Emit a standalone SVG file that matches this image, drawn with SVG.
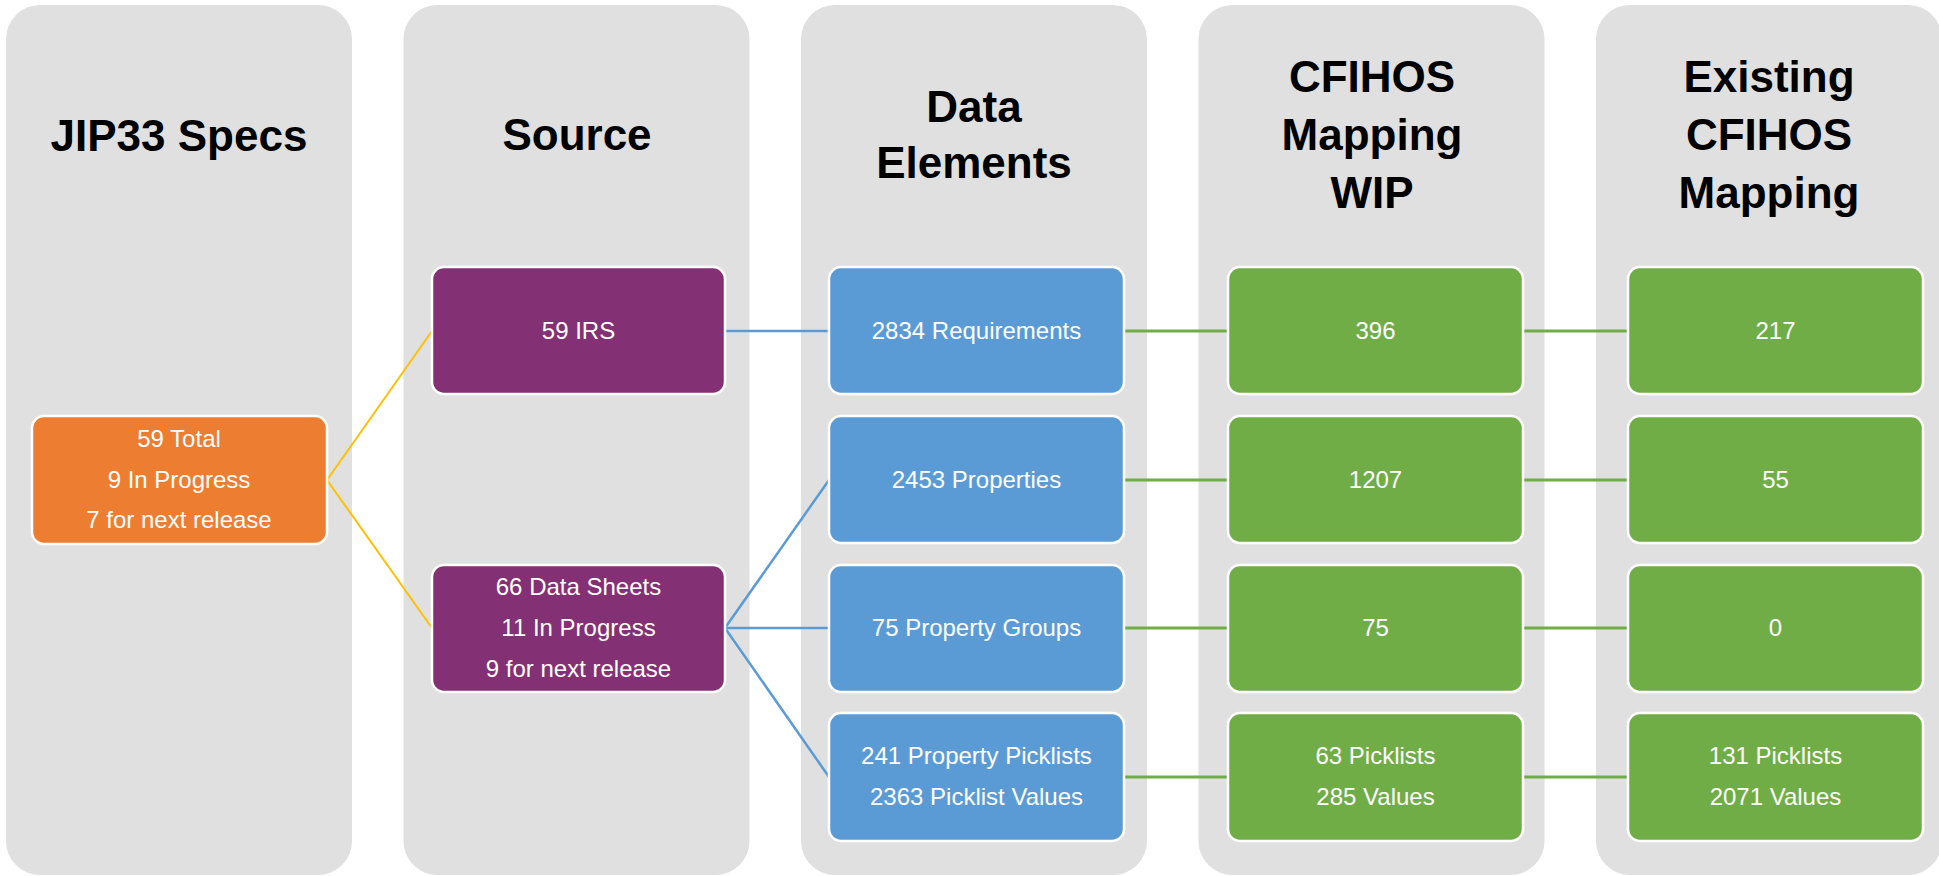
<svg xmlns="http://www.w3.org/2000/svg" width="1939" height="876" viewBox="0 0 1939 876">
<style>
.col{fill:#E0E0E0}
.hd{font-family:"Liberation Sans",Arial,sans-serif;font-weight:bold;font-size:44px;fill:#000;text-anchor:middle}
.box{stroke:#FFFFFF;stroke-width:2.5}
.or{fill:#ED7D31}
.pu{fill:#833174}
.bl{fill:#5B9BD5}
.gr{fill:#70AD47}
.t{font-family:"Liberation Sans",Arial,sans-serif;font-size:24px;fill:#FFFFFF;text-anchor:middle}
.cy{stroke:#FFC000;stroke-width:2;fill:none}
.cb{stroke:#5B9BD5;stroke-width:2.5;fill:none}
.cg{stroke:#70AD47;stroke-width:3;fill:none}
</style>
<rect width="1939" height="876" fill="#FFFFFF"/>
<g id="columns">
<g id="col-jip33"><rect class="col" x="6" y="5" width="346" height="870" rx="34"/><text class="hd" x="179" y="151">JIP33 Specs</text></g>
<g id="col-source"><rect class="col" x="403.5" y="5" width="346" height="870" rx="34"/><text class="hd" x="577" y="150">Source</text></g>
<g id="col-data"><rect class="col" x="801" y="5" width="346" height="870" rx="34"/><text class="hd" x="974" y="122">Data</text><text class="hd" x="974" y="178">Elements</text></g>
<g id="col-wip"><rect class="col" x="1198.5" y="5" width="346" height="870" rx="34"/><text class="hd" x="1372" y="92">CFIHOS</text><text class="hd" x="1372" y="150">Mapping</text><text class="hd" x="1372" y="208">WIP</text></g>
<g id="col-existing"><rect class="col" x="1596" y="5" width="346" height="870" rx="34"/><text class="hd" x="1769" y="92">Existing</text><text class="hd" x="1769" y="150">CFIHOS</text><text class="hd" x="1769" y="208">Mapping</text></g>
</g>
<g id="connectors">
<line class="cy" x1="327" y1="480" x2="432" y2="331"/>
<line class="cy" x1="327" y1="480" x2="432" y2="628"/>
<line class="cb" x1="725" y1="331" x2="829" y2="331"/>
<line class="cb" x1="725" y1="628" x2="829" y2="480"/>
<line class="cb" x1="725" y1="628" x2="829" y2="628"/>
<line class="cb" x1="725" y1="628" x2="829" y2="777"/>
<line class="cg" x1="1124" y1="331" x2="1228" y2="331"/>
<line class="cg" x1="1124" y1="480" x2="1228" y2="480"/>
<line class="cg" x1="1124" y1="628" x2="1228" y2="628"/>
<line class="cg" x1="1124" y1="777" x2="1228" y2="777"/>
<line class="cg" x1="1523" y1="331" x2="1628" y2="331"/>
<line class="cg" x1="1523" y1="480" x2="1628" y2="480"/>
<line class="cg" x1="1523" y1="628" x2="1628" y2="628"/>
<line class="cg" x1="1523" y1="777" x2="1628" y2="777"/>
</g>
<g id="n-total"><rect class="box or" x="32" y="416" width="295" height="128" rx="12"/><text class="t" x="179" y="447">59 Total</text><text class="t" x="179" y="488">9 In Progress</text><text class="t" x="179" y="528">7 for next release</text></g>
<g id="n-irs"><rect class="box pu" x="432" y="267" width="293" height="127" rx="12"/><text class="t" x="578.5" y="339">59 IRS</text></g>
<g id="n-datasheets"><rect class="box pu" x="432" y="565" width="293" height="127" rx="12"/><text class="t" x="578.5" y="595">66 Data Sheets</text><text class="t" x="578.5" y="636">11 In Progress</text><text class="t" x="578.5" y="677">9 for next release</text></g>
<g id="n-req"><rect class="box bl" x="829" y="267" width="295" height="127" rx="12"/><text class="t" x="976.5" y="339">2834 Requirements</text></g>
<g id="n-props"><rect class="box bl" x="829" y="416" width="295" height="127" rx="12"/><text class="t" x="976.5" y="488">2453 Properties</text></g>
<g id="n-groups"><rect class="box bl" x="829" y="565" width="295" height="127" rx="12"/><text class="t" x="976.5" y="636">75 Property Groups</text></g>
<g id="n-picklists"><rect class="box bl" x="829" y="713" width="295" height="128" rx="12"/><text class="t" x="976.5" y="764">241 Property Picklists</text><text class="t" x="976.5" y="805">2363 Picklist Values</text></g>
<g id="n-wip-req"><rect class="box gr" x="1228" y="267" width="295" height="127" rx="12"/><text class="t" x="1375.5" y="339">396</text></g>
<g id="n-wip-props"><rect class="box gr" x="1228" y="416" width="295" height="127" rx="12"/><text class="t" x="1375.5" y="488">1207</text></g>
<g id="n-wip-groups"><rect class="box gr" x="1228" y="565" width="295" height="127" rx="12"/><text class="t" x="1375.5" y="636">75</text></g>
<g id="n-wip-picklists"><rect class="box gr" x="1228" y="713" width="295" height="128" rx="12"/><text class="t" x="1375.5" y="764">63 Picklists</text><text class="t" x="1375.5" y="805">285 Values</text></g>
<g id="n-ex-req"><rect class="box gr" x="1628" y="267" width="295" height="127" rx="12"/><text class="t" x="1775.5" y="339">217</text></g>
<g id="n-ex-props"><rect class="box gr" x="1628" y="416" width="295" height="127" rx="12"/><text class="t" x="1775.5" y="488">55</text></g>
<g id="n-ex-groups"><rect class="box gr" x="1628" y="565" width="295" height="127" rx="12"/><text class="t" x="1775.5" y="636">0</text></g>
<g id="n-ex-picklists"><rect class="box gr" x="1628" y="713" width="295" height="128" rx="12"/><text class="t" x="1775.5" y="764">131 Picklists</text><text class="t" x="1775.5" y="805">2071 Values</text></g>
</svg>
